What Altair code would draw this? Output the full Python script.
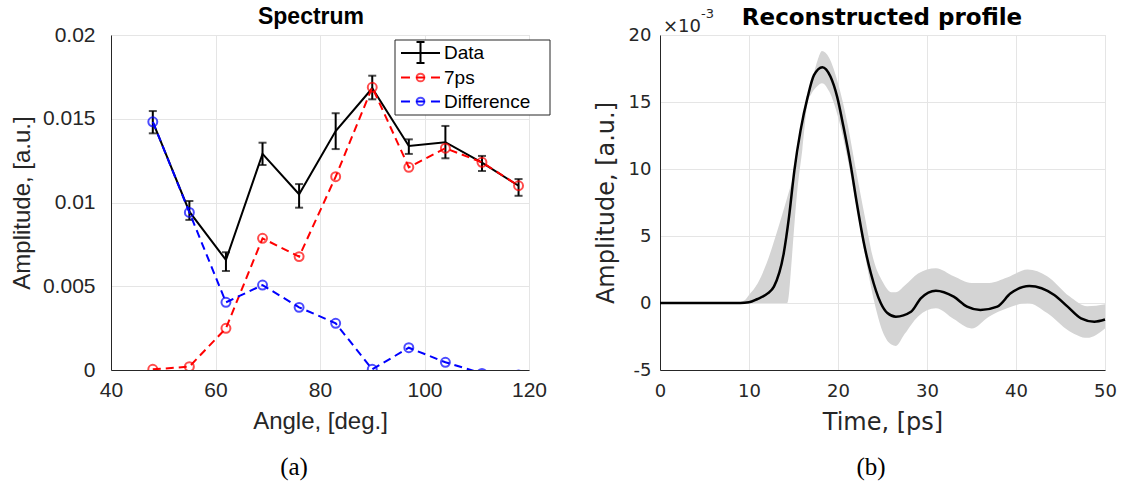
import altair as alt
import pandas as pd

# ---------------- Panel (a): Spectrum ----------------
angle = [48, 55, 62, 69, 76, 83, 90, 97, 104, 111, 118]
data_amp = [0.01482, 0.00945, 0.00657, 0.01290, 0.01049, 0.01427, 0.01682, 0.01337, 0.01360, 0.01238, 0.01100]
data_lo = [0.01413, 0.00896, 0.00591, 0.01224, 0.00969, 0.01319, 0.01616, 0.01290, 0.01264, 0.01188, 0.01040]
data_hi = [0.01546, 0.01009, 0.00703, 0.01357, 0.01110, 0.01533, 0.01757, 0.01377, 0.01457, 0.01278, 0.01140]
fit_7ps = [0.00004, 0.00020, 0.00249, 0.00786, 0.00677, 0.01154, 0.01688, 0.01210, 0.01324, 0.01240, 0.01100]
difference = [0.01482, 0.00941, 0.00404, 0.00507, 0.00374, 0.00279, 0.00004, 0.00133, 0.00046, -0.00020, -0.00030]

# ---------------- Panel (b): Reconstructed profile (x 1e-3) ----------------
t_mean = [0, 9, 10, 10.9, 12.1, 12.8, 13.9, 14.5, 15.1, 15.8, 16.6, 17.3, 18.25, 19.15, 19.9,
          20.6, 21.4, 22.1, 22.9, 23.7, 24.8, 25.55, 26.5, 28.2, 29.3, 31.0, 33.0, 34.5, 36.0,
          37.9, 39.4, 41.5, 44.3, 45.8, 47.3, 48.8, 50]
v_mean = [0, 0, 0.05, 0.28, 0.72, 1.22, 3.7, 6.44, 9.9, 12.9, 15.4, 17.0, 17.6, 16.9, 15.4,
          13.2, 10.4, 7.5, 4.5, 2.2, 0.0, -0.75, -1.02, -0.65, 0.35, 0.92, 0.47, -0.27, -0.52,
          -0.27, 0.72, 1.27, 0.6, -0.27, -1.14, -1.39, -1.23]

t_band = [0, 8.5, 9.5, 10, 11, 12, 13, 14, 14.3, 14.8, 15, 15.4, 16, 16.6, 17, 17.7, 18.2, 19,
          20, 21, 22, 23, 24, 25, 26, 26.5, 27.5, 29, 31, 33, 35, 37, 39, 41.3, 43.5, 46, 48, 50]
band_hi = [0, 0, 0.2, 0.6, 1.5, 3.0, 5.0, 7.2, 7.9, 9.0, 9.4, 10.6, 13.2, 15.4, 16.4, 18.1, 18.8, 18.3,
           16.4, 13.6, 10.0, 6.5, 3.2, 1.6, 0.8, 0.8, 1.3, 2.2, 2.6, 2.0, 1.5, 1.5, 1.9, 2.5, 2.0, 0.5, -0.25, -0.1]
band_lo = [0, 0, 0, 0, 0, 0, 0, 0, 0, 3.2, 5.0, 8.2, 11.5, 15.0, 15.6, 16.2, 16.4, 15.8,
           13.9, 11.0, 7.5, 3.7, 0.3, -2.1, -3.1, -3.2, -2.3, -1.0, -0.4, -1.2, -1.9, -1.0, -0.4, 0.0, -0.75, -2.1, -2.6, -1.9]

left_df = pd.DataFrame({
    "angle": angle, "data": data_amp, "lo": data_lo, "hi": data_hi,
    "fit": fit_7ps, "diff": difference,
})
mean_df = pd.DataFrame({"t": t_mean, "v": v_mean})
band_df = pd.DataFrame({"t": t_band, "hi": band_hi, "lo": band_lo})
one = pd.DataFrame({"k": [0]})

DARK = "#262626"
GRID = "#e5e5e5"

LF = "Liberation Sans"
RF = "DejaVu Sans"

# ---------- left panel ----------
WL, HL = 418, 335
xL = alt.X("angle:Q", scale=alt.Scale(domain=[40, 120], nice=False, zero=False),
           axis=alt.Axis(values=[40, 60, 80, 100, 120], title="Angle, [deg.]", labelFlush=False,
                         labelFont=LF, labelFontSize=21, labelColor=DARK, labelPadding=9,
                         titleFont=LF, titleFontSize=24, titleColor=DARK, titleFontWeight="normal",
                         titlePadding=9, domainColor=DARK, gridColor=GRID, ticks=False,
                         labelExpr="'' + datum.value"))
yL_axis = alt.Axis(values=[0, 0.005, 0.01, 0.015, 0.02], title="Amplitude, [a.u.]",
                   labelFont=LF, labelFontSize=21, labelColor=DARK, labelPadding=16,
                   titleFont=LF, titleFontSize=24, titleColor=DARK, titleFontWeight="normal",
                   titlePadding=8, domainColor=DARK, gridColor=GRID, ticks=False,
                   labelExpr="'' + datum.value")
ysc = alt.Scale(domain=[0, 0.02], nice=False)

base = alt.Chart(left_df)
data_line = base.mark_line(color="black", strokeWidth=2).encode(
    x=xL, y=alt.Y("data:Q", scale=ysc, axis=yL_axis))
err = base.mark_rule(color="black", strokeWidth=2).encode(x="angle:Q", y="lo:Q", y2="hi:Q")
cap_lo = base.mark_tick(color="black", orient="horizontal", size=8, thickness=2).encode(x="angle:Q", y="lo:Q")
cap_hi = base.mark_tick(color="black", orient="horizontal", size=8, thickness=2).encode(x="angle:Q", y="hi:Q")
fit_line = base.mark_line(color="#ff0000", strokeWidth=2, strokeDash=[8, 5], clip=True).encode(x="angle:Q", y="fit:Q")
fit_pts = base.mark_point(color="#ff0000", shape="circle", filled=False, size=80, strokeWidth=2, clip=True).encode(x="angle:Q", y="fit:Q")
diff_line = base.mark_line(color="#0000ff", strokeWidth=2, strokeDash=[8, 5], clip=True).encode(x="angle:Q", y="diff:Q")
diff_pts = base.mark_point(color="#0000ff", shape="circle", filled=False, size=80, strokeWidth=2, clip=True).encode(x="angle:Q", y="diff:Q")

o = alt.Chart(one)
# legend (drawn in pixel space)
leg_box = o.mark_rect(fill="white", stroke=DARK, strokeWidth=1).encode(
    x=alt.value(284), x2=alt.value(439), y=alt.value(5), y2=alt.value(80))
leg_items = []
rows = [18, 42.5, 66.5]
# Data row
leg_items.append(o.mark_rule(color="black", strokeWidth=2).encode(x=alt.value(290), x2=alt.value(329), y=alt.value(rows[0])))
leg_items.append(o.mark_rule(color="black", strokeWidth=2).encode(x=alt.value(309.5), y=alt.value(7), y2=alt.value(28)))
leg_items.append(o.mark_rule(color="black", strokeWidth=2).encode(x=alt.value(305.5), x2=alt.value(313.5), y=alt.value(7)))
leg_items.append(o.mark_rule(color="black", strokeWidth=2).encode(x=alt.value(305.5), x2=alt.value(313.5), y=alt.value(28)))
for r, col in [(rows[1], "#ff0000"), (rows[2], "#0000ff")]:
    leg_items.append(o.mark_rule(color=col, strokeWidth=2).encode(x=alt.value(290), x2=alt.value(299), y=alt.value(r)))
    leg_items.append(o.mark_rule(color=col, strokeWidth=2).encode(x=alt.value(320), x2=alt.value(329), y=alt.value(r)))
    leg_items.append(o.mark_rule(color=col, strokeWidth=2).encode(x=alt.value(305), x2=alt.value(314), y=alt.value(r)))
    leg_items.append(o.mark_point(color=col, shape="circle", filled=False, size=60, strokeWidth=2).encode(x=alt.value(309.5), y=alt.value(r)))
for r, label in zip(rows, ["Data", "7ps", "Difference"]):
    leg_items.append(o.mark_text(text=label, font=LF, fontSize=19, color="black", align="left", baseline="middle").encode(
        x=alt.value(333), y=alt.value(r)))

title_a = o.mark_text(text="Spectrum", font=LF, fontSize=23, fontWeight="bold", color="black",
                      align="center", baseline="middle").encode(x=alt.value(200), y=alt.value(-18))
label_a = o.mark_text(text="(a)", font="Liberation Serif", fontSize=25, color="black",
                      align="center", baseline="middle").encode(x=alt.value(183), y=alt.value(432))

left = alt.layer(data_line, err, cap_lo, cap_hi, fit_line, fit_pts, diff_line, diff_pts,
                 leg_box, *leg_items, title_a, label_a).properties(width=WL, height=HL)

# ---------- right panel ----------
WR, HR = 445, 335
xR = alt.X("t:Q", scale=alt.Scale(domain=[0, 50], nice=False),
           axis=alt.Axis(values=[0, 10, 20, 30, 40, 50], title="Time, [ps]", labelFlush=False,
                         labelFont=RF, labelFontSize=18, labelColor=DARK, labelPadding=12,
                         titleFont=RF, titleFontSize=24, titleColor=DARK, titleFontWeight="normal",
                         titlePadding=10, domainColor=DARK, gridColor=GRID, ticks=False,
                         labelExpr="'' + datum.value"))
yR_axis = alt.Axis(values=[-5, 0, 5, 10, 15, 20], title="Amplitude, [a.u.]",
                   labelFont=RF, labelFontSize=18, labelColor=DARK, labelPadding=9,
                   titleFont=RF, titleFontSize=24, titleColor=DARK, titleFontWeight="normal",
                   titlePadding=10, domainColor=DARK, gridColor=GRID, ticks=False,
                   labelExpr="'' + datum.value")
yRsc = alt.Scale(domain=[-5, 20], nice=False)

band = alt.Chart(band_df).mark_area(color="#d4d4d4", interpolate="monotone").encode(
    x=xR, y=alt.Y("hi:Q", scale=yRsc, axis=yR_axis), y2="lo:Q")
mean = alt.Chart(mean_df).mark_line(color="black", strokeWidth=2.5, interpolate="monotone").encode(
    x="t:Q", y="v:Q")

title_b = o.mark_text(text="Reconstructed profile", font=RF, fontSize=23, fontWeight="bold", color="black",
                      align="center", baseline="middle").encode(x=alt.value(222), y=alt.value(-17))
exp_base = o.mark_text(text="×10", font=RF, fontSize=18, color=DARK, align="left", baseline="alphabetic").encode(
    x=alt.value(3), y=alt.value(-3))
exp_sup = o.mark_text(text="-3", font=RF, fontSize=13, color=DARK, align="left", baseline="alphabetic").encode(
    x=alt.value(41), y=alt.value(-17))
label_b = o.mark_text(text="(b)", font="Liberation Serif", fontSize=25, color="black",
                      align="center", baseline="middle").encode(x=alt.value(211), y=alt.value(432))

right = alt.layer(band, mean, title_b, exp_base, exp_sup, label_b).properties(width=WR, height=HR)

chart = alt.hconcat(left, right, spacing=42).properties(
    padding={"left": 9, "top": 5, "right": 0, "bottom": 0}
).configure_view(strokeWidth=0).configure(background="white")

chart.save("out.html", embed_options={"renderer": "svg", "actions": False})
